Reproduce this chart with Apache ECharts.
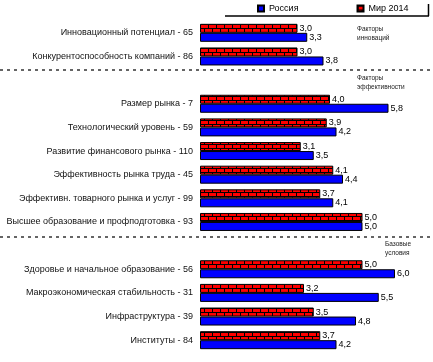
<!DOCTYPE html>
<html><head><meta charset="utf-8">
<script src="https://cdn.jsdelivr.net/npm/echarts@6/dist/echarts.min.js"></script>
<style>html,body{margin:0;padding:0;background:#fff}#c{width:433px;height:362px}</style>
</head><body><div id="c"></div>
<script>
var categories = [
  "Инновационный потенциал - 65",
  "Конкурентоспособность компаний - 86",
  "",
  "Размер рынка - 7",
  "Технологический уровень - 59",
  "Развитие финансового рынка - 110",
  "Эффективность рынка труда - 45",
  "Эффективн. товарного рынка и услуг - 99",
  "Высшее образование и профподготовка - 93",
  "",
  "Здоровье и начальное образование - 56",
  "Макроэкономическая стабильность - 31",
  "Инфраструктура - 39",
  "Институты - 84"
];
var russia = [3.3, 3.8, '-', 5.8, 4.2, 3.5, 4.4, 4.1, 5.0, '-', 6.0, 5.5, 4.8, 4.2];
var world  = [3.0, 3.0, '-', 4.0, 3.9, 3.1, 4.1, 3.7, 5.0, '-', 5.0, 3.2, 3.5, 3.7];
var seriesNames = ["Россия", "Мир 2014"];
var groupNotes = [["Факторы", "инноваций"], ["Факторы", "эффективности"], ["Базовые", "условия"]];

var FONT = "Liberation Sans, Arial, sans-serif";

function brick() {
  var c = document.createElement('canvas');
  c.width = 8; c.height = 8;
  var g = c.getContext('2d');
  g.fillStyle = '#ff0000'; g.fillRect(0,0,8,8);
  g.fillStyle = '#000000';
  g.fillRect(0,0,8,1); g.fillRect(0,4,8,1);
  g.fillRect(0,1,1,3); g.fillRect(4,5,1,3);
  return c;
}
var pat = {image: brick(), repeat: 'repeat'};

function fmt(p){ return (+p.value).toFixed(1).replace('.', ','); }

var chart = echarts.init(document.getElementById('c'), null, {renderer:'canvas'});
chart.setOption({
  animation: false,
  textStyle: {fontFamily: FONT},
  legend: {
    data: seriesNames, left: 257, top: 4, itemWidth: 6, itemHeight: 6, itemGap: 58, icon: 'rect',
    textStyle: {fontFamily: FONT, fontSize: 9, color: '#000'}, padding: 0
  },
  grid: {left: 200, right: 5.5, top: 21, bottom: 10},
  xAxis: {type: 'value', min: 0, max: 7, show: false},
  yAxis: {
    type: 'category', data: categories, inverse: true,
    axisLine: {show: false}, axisTick: {show: false},
    axisLabel: {fontFamily: FONT, fontSize: 9, color: '#111', margin: 7}
  },
  series: [
    {name: seriesNames[1], type: 'bar', data: world, barWidth: 9, barGap: '0%',
     itemStyle: {color: pat, borderColor: '#000', borderWidth: 1},
     label: {show: true, position: 'right', distance: 2, formatter: fmt, fontFamily: FONT, fontSize: 9, color: '#000'}},
    {name: seriesNames[0], type: 'bar', data: russia, barWidth: 9, barGap: '0%',
     itemStyle: {color: '#0000ff', borderColor: '#000', borderWidth: 1},
     label: {show: true, position: 'right', distance: 2, formatter: fmt, fontFamily: FONT, fontSize: 9, color: '#000'}}
  ],
  graphic: [
    {type: 'line', shape: {x1: 225, y1: 16, x2: 429, y2: 16}, style: {stroke: '#000', lineWidth: 1.5}},
    {type: 'line', shape: {x1: 428.5, y1: 4, x2: 428.5, y2: 16}, style: {stroke: '#000', lineWidth: 1.5}},
    {type: 'line', shape: {x1: 0, y1: 70, x2: 433, y2: 70}, style: {stroke: '#333', lineWidth: 1.5, lineDash: [3, 4]}},
    {type: 'line', shape: {x1: 0, y1: 237, x2: 433, y2: 237}, style: {stroke: '#333', lineWidth: 1.5, lineDash: [3, 4]}},
    {type: 'text', left: 357, top: 25, style: {text: groupNotes[0].join('\n'), font: '6.5px ' + FONT, fill: '#222', lineHeight: 9}},
    {type: 'text', left: 357, top: 74, style: {text: groupNotes[1].join('\n'), font: '6.5px ' + FONT, fill: '#222', lineHeight: 9}},
    {type: 'text', left: 385, top: 240, style: {text: groupNotes[2].join('\n'), font: '6.5px ' + FONT, fill: '#222', lineHeight: 9}}
  ]
});
</script></body></html>
